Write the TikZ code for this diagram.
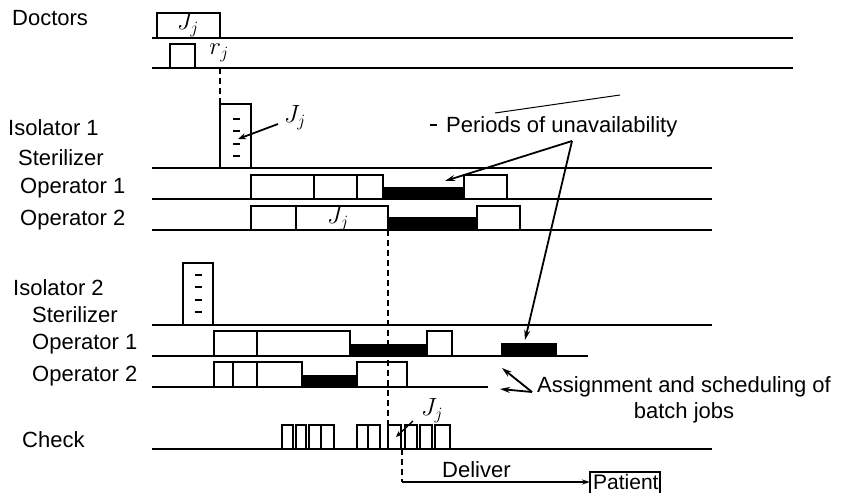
\documentclass[tikz,border=0pt]{standalone}
\usepackage{fontspec}
\setmainfont{Liberation Sans}
\usetikzlibrary{arrows.meta}
\newcommand\gbox[4]{\draw[gline] (#1,#4) -- (#1,#3) -- (#2,#3) -- (#2,#4);}
\newcommand\bbar[4]{\fill (#1,#3) rectangle (#2,#4);}
\newcommand\tick[3]{\draw[line width=2.8pt] (#1,#3) -- (#2,#3);}
\begin{document}
\begin{tikzpicture}[x=1pt,y=-1pt,
  lbl/.style={anchor=west,inner sep=0pt,font=\fontsize{22}{26}\selectfont},
  mj/.style={inner sep=0pt,font=\fontsize{24}{28}\selectfont},
  gline/.style={line width=2.3pt},
  tl/.style={line width=2.3pt},
  dline/.style={line width=2.3pt,dash pattern=on 6pt off 4pt},
  arr/.style={line width=1.8pt,-{Stealth[length=10pt,width=6pt]}}]
\useasboundingbox (0,0) rectangle (860,493);
% labels
\node[lbl] (ldoc) at (12,18) {Doctors};
\node[lbl] (liso1) at (8,128) {Isolator 1};
\node[lbl] (lst1) at (18,158) {Sterilizer};
\node[lbl] (lo11) at (20,188) {Operator 1};
\node[lbl] (lo21) at (20,220) {Operator 2};
\node[lbl] (liso2) at (13,288) {Isolator 2};
\node[lbl] (lst2) at (32,315) {Sterilizer};
\node[lbl] (lo12) at (32,344) {Operator 1};
\node[lbl] (lo22) at (32,376) {Operator 2};
\node[lbl] (lchk) at (22,440) {Check};
% time lines
\draw[tl] (152,38) -- (793,38);
\draw[tl] (152,68) -- (793,68);
\draw[tl] (152,168) -- (712,168);
\draw[tl] (152,199) -- (712,199);
\draw[tl] (152,230) -- (712,230);
\draw[tl] (152,325) -- (712,325);
\draw[tl] (152,356) -- (588,356);
\draw[tl] (152,387) -- (488,387);
\draw[tl] (152,449) -- (712,449);
% doctors
\gbox{157}{220}{13}{38}
\node[mj] (jd) at (188,25) {$J_j$};
\gbox{170}{195}{44}{68}
\node[mj] (rj) at (219,53) {$r_j$};
\draw[dline] (220,68) -- (220,104);
% isolator 1
\gbox{220}{251}{104}{168}
\tick{233}{240}{119}\tick{233}{240}{131}\tick{233}{240}{144}\tick{233}{240}{156}
\node[mj] (ji1) at (295,118) {$J_j$};
\coordinate (ti1) at (238,139);
\draw[line width=1.8pt,-{Stealth[length=8pt,width=6pt]}] (278,124) -- (ti1);
\gbox{251}{314}{175}{199}\gbox{314}{357}{175}{199}\gbox{357}{383}{175}{199}
\bbar{383}{464}{187}{199}
\gbox{464}{507}{175}{199}
\gbox{251}{296}{206}{230}\gbox{296}{388}{206}{230}
\bbar{388}{477}{217}{230}
\gbox{477}{520}{206}{230}
\node[mj] (jo) at (338,219) {$J_j$};
% isolator 2
\gbox{183}{213}{263}{325}
\tick{195}{202}{275}\tick{195}{202}{287}\tick{195}{202}{300}\tick{195}{202}{312}
\gbox{214}{257}{331}{356}\gbox{257}{350}{331}{356}
\bbar{350}{427}{344}{356}
\gbox{427}{452}{331}{356}
\bbar{501}{557}{343}{356}
\gbox{214}{233}{362}{387}\gbox{233}{257}{362}{387}\gbox{257}{302}{362}{387}
\bbar{302}{357}{375}{387}
\gbox{357}{407}{362}{387}
% check
\gbox{282}{293}{425}{449}\gbox{296}{306}{425}{449}\gbox{309}{321}{425}{449}\gbox{321}{334}{425}{449}
\gbox{357}{368}{425}{449}\gbox{368}{380}{425}{449}\gbox{388}{401}{425}{449}
\gbox{405}{417}{425}{449}\gbox{420}{432}{425}{449}\gbox{435}{450}{425}{449}
\draw[dline] (388,230) -- (388,425);
\node[mj] (jc) at (432,411) {$J_j$};
\coordinate (tc) at (396,437);
\draw[line width=1.4pt,-{Stealth[length=6pt,width=5pt]}] (413,421) -- (tc);
% deliver
\coordinate (ds) at (402,482);
\draw[dline] (402,449) -- (ds);
\node[lbl] (deliver) at (442,470) {Deliver};
\node[lbl,font=\fontsize{21}{24}\selectfont] (patient) at (593,482) {Patient};
\draw[line width=1.2pt] (590,493) -- (590,472) -- (660,472) -- (660,493);
\draw[line width=1.4pt,-{Stealth[length=8pt,width=5pt]}] (ds) -- (590,482);
% periods of unavailability
\node[lbl] (per) at (446,127) {Periods of unavailability};
\draw[line width=1.8pt] (430,125) -- (437,125);
\draw[line width=1pt] (495,113) -- (620,95);
\coordinate (pa) at (572,141);
\coordinate (pt1) at (445,181);
\coordinate (pt2) at (525,340);
\draw[arr] (pa) -- (pt1);
\draw[arr] (pa) -- (pt2);
% assignment
\node[lbl,anchor=center,align=center] (asg) at (684,400) {Assignment and scheduling of\\batch jobs};
\coordinate (aa) at (532,392);
\draw[arr] (aa) -- (502,368);
\draw[arr] (aa) -- (500,389);
\end{tikzpicture}
\end{document}
